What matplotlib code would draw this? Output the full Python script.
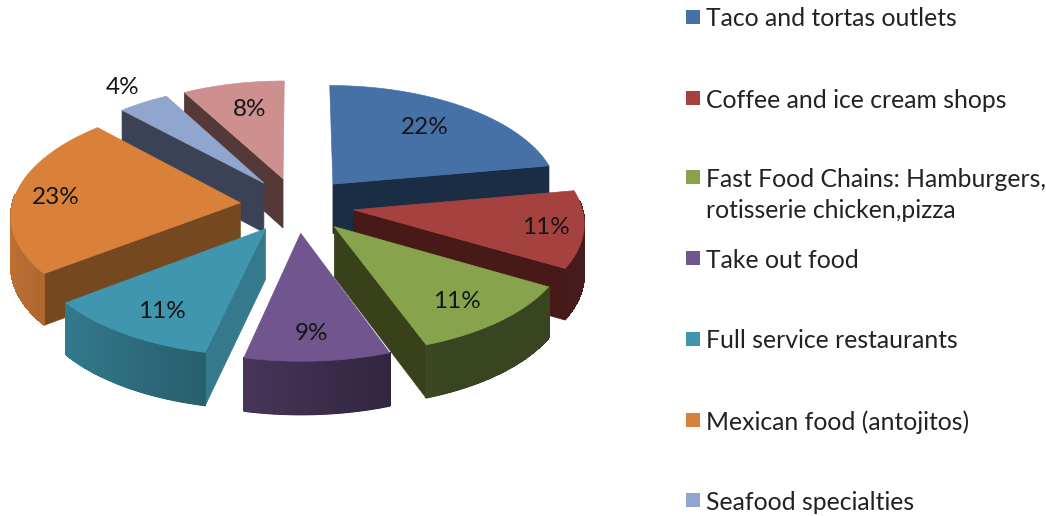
import numpy as np
import matplotlib
matplotlib.use("Agg")
import matplotlib.pyplot as plt
from matplotlib.collections import PolyCollection
from matplotlib.patches import Polygon, Rectangle

plt.rcParams['font.family'] = ['Lato', 'DejaVu Sans']

# share of outlets per category (the last slice has no legend row on the canvas)
values = [22, 11, 11, 9, 11, 23, 4, 8]
legend_names = [
    "Taco and tortas outlets",
    "Coffee and ice cream shops",
    "Fast Food Chains: Hamburgers,\nrotisserie chicken,pizza",
    "Take out food",
    "Full service restaurants",
    "Mexican food (antojitos)",
    "Seafood specialties",
]

colors = ['#4571A7', '#A54240', '#87A44D', '#70558E', '#3F96AE', '#D9803B', '#90A6CE', '#CE8F8F']
wall_colors = ['#1A2D44', '#471A17', '#384119', '#3F2E52', '#347A8C', '#754820', '#3B4255', '#553838']

# layout of the fake 3d pie, in pixels
CX, CY = 297, 205
RX, RY = 228, 111
PERSP_X = 0.10
PERSP_Y = 0.09
EXPLODE = 0.25
DEPTH = 50

label_xy = [(425, 128), (546, 228), (457, 302), (311, 333), (162, 312), (56, 198), (123, 88), (250, 110)]
legend_y = [19, 100, 195, 260, 341, 422, 502]


def project(x, y, z=0.0):
    depth = DEPTH * (1.0 - 0.06 * y)
    return CX + RX * x / (1.0 + PERSP_X * y), CY - RY * y / (1.0 + PERSP_Y * y) + depth * z


def shade(color, f):
    rgb = np.array(matplotlib.colors.to_rgb(color))
    return tuple(rgb * f)


# the rim gets lighter towards the left side of the pie
def rim_factor(theta):
    return np.interp(np.sin(theta), [-1.0, -0.2, 0.4, 1.0], [0.87, 0.62, 0.42, 0.42])


def draw_wedge(ax, start, end, color, wall_color):
    mid = (start + end) / 2
    ox, oy = EXPLODE * np.sin(mid), EXPLODE * np.cos(mid)
    t = np.linspace(start, end, 80)
    rx, ry = ox + np.sin(t), oy + np.cos(t)

    # flat cut faces, only the ones turned towards the viewer
    for edge, normal in ((start, start - np.pi / 2), (end, end + np.pi / 2)):
        if np.cos(normal) < 0:
            ex, ey = ox + np.sin(edge), oy + np.cos(edge)
            pts = [project(ox, oy), project(ex, ey), project(ex, ey, 1), project(ox, oy, 1)]
            ax.add_patch(Polygon(pts, facecolor=wall_color, edgecolor=wall_color, lw=0.5, zorder=1))

    # outer rim: smooth base shape, then strips for the shading along it
    quads, fills = [], []
    front = [i for i in range(len(t)) if np.cos(t[i]) <= 0.08]
    if front:
        upper = [project(rx[i], ry[i]) for i in front]
        lower = [project(rx[i], ry[i], 1) for i in front]
        base = shade(color, rim_factor(t[front[len(front) // 2]]))
        ax.add_patch(Polygon(upper + lower[::-1], facecolor=base, edgecolor=base, lw=0.5, zorder=1))
        for a, b in zip(front[:-1], front[1:]):
            tm = (t[a] + t[b]) / 2
            quads.append([project(rx[a], ry[a]), project(rx[b], ry[b]),
                          project(rx[b], ry[b], 0.98), project(rx[a], ry[a], 0.98)])
            fills.append(shade(color, rim_factor(tm)))
        ax.add_collection(PolyCollection(quads, facecolors=fills, edgecolors=fills,
                                         linewidths=0.8, antialiaseds=False, zorder=1))

    top = [project(ox, oy)] + [project(a, b) for a, b in zip(rx, ry)]
    ax.add_patch(Polygon(top, facecolor=color, edgecolor=color, lw=0.5, zorder=1))


fig = plt.figure(figsize=(10.46, 5.16), dpi=100)
ax = fig.add_axes([0, 0, 1, 1])
ax.set_xlim(0, 1046)
ax.set_ylim(516, 0)
ax.axis('off')

edges = np.concatenate([[0], np.cumsum(values)]) / np.sum(values) * 2 * np.pi
mids = (edges[:-1] + edges[1:]) / 2

# back slices first so the front ones cover them
for i in np.argsort(-np.cos(mids)):
    draw_wedge(ax, edges[i], edges[i + 1], colors[i], wall_colors[i])

for v, (lx, ly) in zip(values, label_xy):
    ax.text(lx, ly, "%d%%" % v, ha='center', va='center', fontsize=17.5, color='#151515', zorder=3)

for name, c, ly in zip(legend_names, colors, legend_y):
    n_lines = name.count("\n") + 1
    sy = ly - 2 - 16 if n_lines == 2 else ly - 2
    ax.add_patch(Rectangle((686, sy - 7), 14, 14, facecolor=c, edgecolor='none', zorder=3))
    ax.text(706, ly, name, ha='left', va='center', fontsize=17.8, color='#222222',
            linespacing=1.45, zorder=3)

fig.savefig('out.png', dpi=100)
